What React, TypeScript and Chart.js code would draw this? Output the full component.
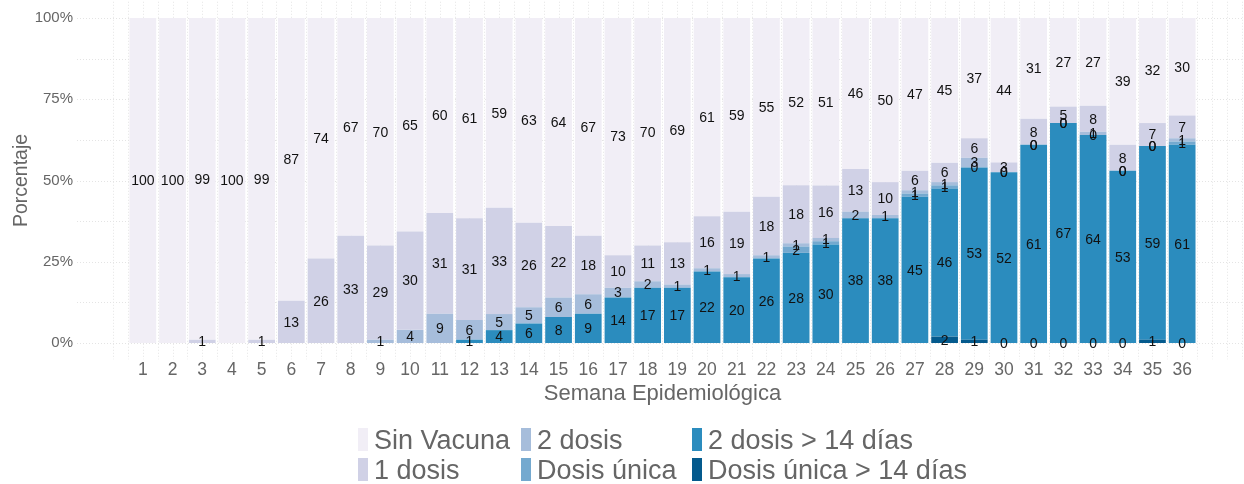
import React, { useEffect, useRef } from 'react';
import { Chart, registerables } from 'chart.js';

Chart.register(...registerables);

const weeks = ['1', '2', '3', '4', '5', '6', '7', '8', '9', '10', '11', '12', '13', '14', '15', '16', '17', '18', '19', '20', '21', '22', '23', '24', '25', '26', '27', '28', '29', '30', '31', '32', '33', '34', '35', '36'];

const yTicks = [0, 25, 50, 75, 100];

const sinVacuna = [100, 100, 99, 100, 99, 87, 74, 67, 70, 65, 60, 61, 59, 63, 64, 67, 73, 70, 69, 61, 59, 55, 52, 51, 46, 50, 47, 45, 37, 44, 31, 27, 27, 39, 32, 30];
const unaDosis = [null, null, 1, null, 1, 13, 26, 33, 29, 30, 31, 31, 33, 26, 22, 18, 10, 11, 13, 16, 19, 18, 18, 16, 13, 10, 6, 6, 6, 3, 8, 5, 8, 8, 7, 7];
const dosDosis = [null, null, null, null, null, null, null, null, 1, 4, 9, 6, 5, 5, 6, 6, 3, 2, 1, 1, 1, 1, 1, 1, 2, 1, 1, 1, 3, 0, 0, 0, 1, 0, 0, 1];
const dosisUnica = [null, null, null, null, null, null, null, null, null, null, null, null, null, null, null, null, null, null, null, null, null, null, 2, 1, null, null, 1, 1, 0, 0, 0, 0, 0, 0, 0, 1];
const dosDosis14 = [null, null, null, null, null, null, null, null, null, null, null, 1, 4, 6, 8, 9, 14, 17, 17, 22, 20, 26, 28, 30, 38, 38, 45, 46, 53, 52, 61, 67, 64, 53, 59, 61];
const dosisUnica14 = [null, null, null, null, null, null, null, null, null, null, null, null, null, null, null, null, null, null, null, null, null, null, null, null, null, null, null, 2, 1, 0, 0, 0, 0, 0, 1, 0];

const seriesNames = ['Sin Vacuna', '1 dosis', '2 dosis', 'Dosis única', '2 dosis > 14 días', 'Dosis única > 14 días'];
const seriesValues: (number | null)[][] = [sinVacuna, unaDosis, dosDosis, dosisUnica, dosDosis14, dosisUnica14];
const seriesColors = ['#f1eef6', '#d0d1e6', '#a6bddb', '#74a9cf', '#2b8cbe', '#045a8d'];

const FONT = "'Liberation Sans', Arial, sans-serif";
const TEXT_GRAY = '#666666';

export default function App() {
  const canvasRef = useRef<HTMLCanvasElement | null>(null);

  useEffect(() => {
    document.body.style.margin = '0';
    const canvas = canvasRef.current;
    if (!canvas) return;

    const totals = weeks.map((_, j) =>
      seriesValues.reduce((s, arr) => s + (arr[j] == null ? 0 : (arr[j] as number)), 0)
    );

    // stacking order: bottom first
    const order = [5, 4, 3, 2, 1, 0];
    const datasets = order.map((k) => ({
      label: seriesNames[k],
      data: seriesValues[k].map((v, j) => (v == null ? null : (v / totals[j]) * 100)),
      backgroundColor: seriesColors[k],
      borderWidth: 0,
      barPercentage: 0.9,
      categoryPercentage: 1,
      stack: 's',
    }));

    const gridPlugin = {
      id: 'panelGrid',
      beforeDraw(chart: any) {
        const { ctx } = chart;
        const xs = chart.scales.x;
        const ys = chart.scales.y;
        ctx.save();
        ctx.strokeStyle = '#e4e4e4';
        ctx.lineWidth = 1;
        ctx.setLineDash([1, 2]);
        for (let v = 0; v <= 100; v += 12.5) {
          const y = Math.round(ys.getPixelForValue(v)) + 0.5;
          ctx.beginPath();
          ctx.moveTo(77, y);
          ctx.lineTo(1244, y);
          ctx.stroke();
        }
        const p0 = xs.getPixelForValue(0);
        const p1 = xs.getPixelForValue(1);
        const half = (p1 - p0) / 2;
        const yTop = ys.getPixelForValue(105);
        const yBot = ys.getPixelForValue(-5);
        for (let x = p0 - 2 * half; x <= 1242; x += half) {
          const xx = Math.round(x) + 0.5;
          ctx.beginPath();
          ctx.moveTo(xx, yTop);
          ctx.lineTo(xx, yBot);
          ctx.stroke();
        }
        ctx.restore();
      },
    };

    const labelPlugin = {
      id: 'barLabels',
      afterDatasetsDraw(chart: any) {
        const { ctx } = chart;
        ctx.save();
        ctx.font = `14px ${FONT}`;
        ctx.fillStyle = '#111111';
        ctx.textAlign = 'center';
        ctx.textBaseline = 'middle';
        order.forEach((k, d) => {
          const meta = chart.getDatasetMeta(d);
          meta.data.forEach((el: any, j: number) => {
            const raw = seriesValues[k][j];
            if (raw == null) return;
            const p = el.getProps(['x', 'y', 'base'], true);
            ctx.fillText(String(raw), p.x, (p.y + p.base) / 2 + 1);
          });
        });
        ctx.restore();
      },
    };

    const legendPlugin = {
      id: 'customLegend',
      afterDraw(chart: any) {
        const { ctx } = chart;
        const colX = [358, 521, 692];
        const rowBase = [449, 479];
        ctx.save();
        ctx.font = `27px ${FONT}`;
        ctx.textAlign = 'left';
        ctx.textBaseline = 'alphabetic';
        seriesNames.forEach((name, i) => {
          const col = Math.floor(i / 2);
          const row = i % 2;
          const x = colX[col];
          const base = rowBase[row];
          ctx.fillStyle = seriesColors[i];
          ctx.fillRect(x, base - 21, 10, 23);
          ctx.fillStyle = TEXT_GRAY;
          ctx.fillText(name, x + 16, base);
        });
        ctx.restore();
      },
    };

    const chart = new Chart(canvas, {
      type: 'bar',
      data: { labels: weeks, datasets },
      options: {
        animation: false,
        responsive: true,
        maintainAspectRatio: false,
        layout: { padding: { left: 0, right: 47, top: 18, bottom: 71 } },
        plugins: {
          legend: { display: false },
          tooltip: { enabled: false },
        },
        scales: {
          x: {
            stacked: true,
            grid: { display: false, drawTicks: false },
            border: { display: false },
            ticks: {
              color: TEXT_GRAY,
              font: { family: FONT, size: 17.5 },
              padding: 17,
              maxRotation: 0,
              autoSkip: false,
            },
            title: {
              display: true,
              text: 'Semana Epidemiológica',
              color: TEXT_GRAY,
              font: { family: FONT, size: 22 },
              padding: { top: 0, bottom: 6 },
            },
            afterFit(scale: any) {
              scale.height = 70;
              scale.paddingLeft = 0;
              scale.paddingRight = 0;
            },
          },
          y: {
            stacked: true,
            min: 0,
            max: 100,
            grid: { display: false, drawTicks: false },
            border: { display: false },
            afterBuildTicks(scale: any) {
              scale.ticks = yTicks.map((v) => ({ value: v }));
            },
            ticks: {
              color: TEXT_GRAY,
              font: { family: FONT, size: 15 },
              padding: 55,
              callback: (v: any) => `${v}%`,
            },
            title: {
              display: true,
              text: 'Porcentaje',
              color: TEXT_GRAY,
              font: { family: FONT, size: 19.5 },
              padding: { top: 10, bottom: 0 },
            },
            afterFit(scale: any) {
              scale.width = 128;
              scale.paddingTop = 0;
              scale.paddingBottom = 0;
            },
          },
        },
      },
      plugins: [gridPlugin, labelPlugin, legendPlugin],
    });

    return () => chart.destroy();
  }, []);

  return (
    <div style={{ position: 'relative', width: 1244, height: 484 }}>
      <canvas ref={canvasRef} style={{ display: 'block' }} />
    </div>
  );
}
